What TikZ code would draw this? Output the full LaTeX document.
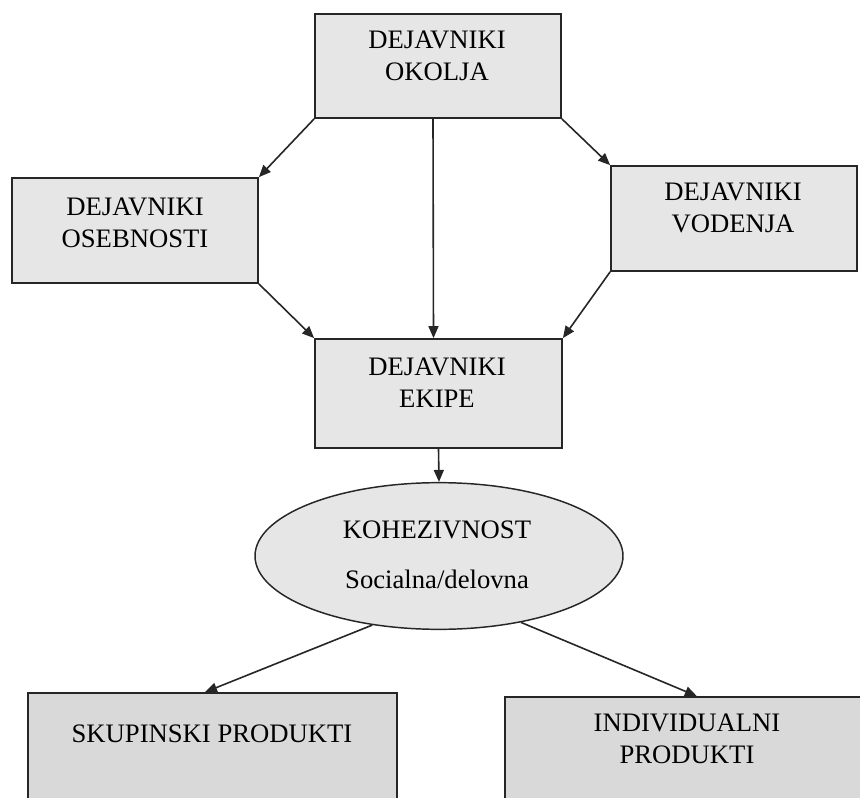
\documentclass[tikz,border=0pt]{standalone}
\usepackage{fontspec}
\setmainfont{Liberation Serif}
\usetikzlibrary{shapes.geometric,arrows.meta}

\definecolor{boxfill}{HTML}{E6E6E6}
\definecolor{prodfill}{HTML}{D9D9D9}
\definecolor{edge}{HTML}{262626}

\tikzset{
  factor/.style={draw=edge, line width=1.3pt, fill=boxfill, rectangle, inner sep=0pt},
  product/.style={factor, fill=prodfill},
  cohesion/.style={draw=edge, line width=1.1pt, fill=boxfill, ellipse, inner sep=0pt},
  label/.style={inner sep=0pt, align=center, font=\fontsize{20pt}{24pt}\selectfont},
  link/.style={draw=edge, line width=1.2pt, -{Triangle[length=9pt,width=7.5pt]}}
}

\begin{document}
\begin{tikzpicture}[x=0.75pt, y=-0.75pt]
  \useasboundingbox (0,0) rectangle (860,798);
  \clip (0,0) rectangle (860,798);

  % factor boxes
  \node[factor, minimum width=184.5pt, minimum height=78pt] (okolja) at (438,66) {};
  \node[factor, minimum width=184.5pt, minimum height=78.75pt] (osebnosti) at (135,230.5) {};
  \node[factor, minimum width=184.5pt, minimum height=78.75pt] (vodenja) at (734,218.5) {};
  \node[factor, minimum width=185.25pt, minimum height=81.75pt] (ekipe) at (438.5,393.5) {};

  % cohesion
  \node[cohesion, minimum width=276pt, minimum height=110pt] (koh) at (439,556) {};

  % products (running off the lower edge)
  \node[product, minimum width=276.75pt, minimum height=102.75pt] (skup) at (212.5,761.5) {};
  \node[product, minimum width=267.75pt, minimum height=99.75pt] (indiv) at (683.5,763.5) {};

  % texts
  \node[label, anchor=north] (okolja-t) at (437,30.5) {DEJAVNIKI\\OKOLJA};
  \node[label, anchor=north] (osebnosti-t) at (135,197.5) {DEJAVNIKI\\OSEBNOSTI};
  \node[label, anchor=north] (vodenja-t) at (733,182.5) {DEJAVNIKI\\VODENJA};
  \node[label, anchor=north] (ekipe-t) at (437,357.5) {DEJAVNIKI\\EKIPE};
  \node[label, anchor=north] (koh-t) at (437,520.5) {KOHEZIVNOST\\[13.5pt]Socialna/delovna};
  \node[label, anchor=base] (skup-t) at (212,742) {SKUPINSKI PRODUKTI};
  \node[label, anchor=north] (indiv-t) at (687,713.5) {INDIVIDUALNI\\PRODUKTI};

  % connectors
  \draw[link] (okolja.south west) -- (osebnosti.north east);
  \draw[link] (okolja.south east) -- (vodenja.north west);
  \draw[link] ([xshift=-3.75pt]okolja.south) -- ([xshift=-3.75pt]ekipe.north);
  \draw[link] (osebnosti.south east) -- (ekipe.north west);
  \draw[link] (vodenja.south west) -- (ekipe.north east);
  \draw[link] (ekipe.south) -- (koh.north);
  \draw[link] (koh.226) -- ([xshift=-5.6pt]skup.north);
  \draw[link] (koh.321) -- ([xshift=10pt]indiv.north);
\end{tikzpicture}
\end{document}
